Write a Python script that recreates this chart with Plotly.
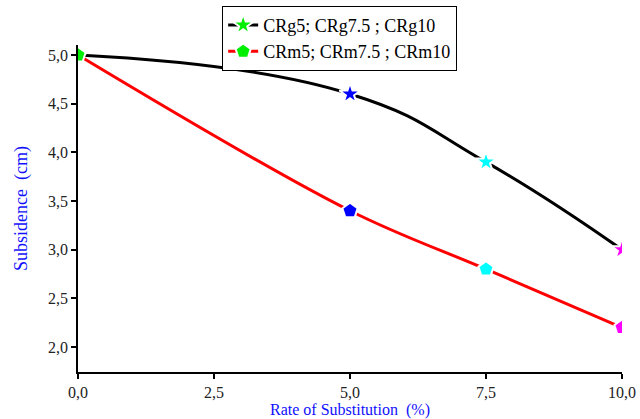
import plotly.graph_objects as go

x_rate = [0, 5, 7.5, 10]
crg = [5.0, 4.6, 3.9, 3.0]
crm = [5.0, 3.4, 2.8, 2.2]
point_colors = ["#00ee00", "#0000ff", "#00ffff", "#ff00ff"]
names = ["CRg5; CRg7.5 ; CRg10", "CRm5; CRm7.5 ; CRm10"]

FONT = "Liberation Serif, Times New Roman, serif"

fig = go.Figure()
fig.add_trace(go.Scatter(
    x=x_rate, y=crg, name=names[0], mode="lines+markers",
    line=dict(color="black", width=3, shape="spline", smoothing=1.3),
    marker=dict(symbol="star", size=16, color=point_colors, line=dict(color="white", width=2)),
))
fig.add_trace(go.Scatter(
    x=x_rate, y=crm, name=names[1], mode="lines+markers",
    line=dict(color="#ff0000", width=3, shape="spline", smoothing=1),
    marker=dict(symbol="pentagon", size=16, color=point_colors, line=dict(color="white", width=2)),
))

axis_common = dict(
    showline=True, linecolor="black", linewidth=1.5, mirror=False,
    ticks="outside", ticklen=5, tickwidth=1.5, tickcolor="black",
    showgrid=False, zeroline=False, automargin=False,
    tickfont=dict(family=FONT, size=16, color="#222222"),
    tickformat=".1f",
)

fig.update_layout(
    width=640, height=419,
    margin=dict(l=78, r=18, t=45, b=47, autoexpand=False),
    paper_bgcolor="white", plot_bgcolor="white",
    separators=", ",
    font=dict(family=FONT),
    showlegend=True,
    legend=dict(
        x=0.265, y=1.12, xanchor="left", yanchor="top",
        bordercolor="black", borderwidth=1, bgcolor="white",
        font=dict(family=FONT, size=18, color="black"),
        tracegroupgap=0, itemwidth=30,
    ),
    xaxis=dict(
        range=[0, 10], tickvals=[0, 2.5, 5, 7.5, 10],
        title=dict(text="Rate of Substitution  (%)", font=dict(family=FONT, size=16, color="#1010ff"), standoff=4),
        **axis_common,
    ),
    yaxis=dict(
        range=[1.743, 5.103], tickvals=[2.0, 2.5, 3.0, 3.5, 4.0, 4.5, 5.0],
        title=dict(text="Subsidence  (cm)", font=dict(family=FONT, size=18, color="#1010ff"), standoff=16),
        **axis_common,
    ),
)

fig.write_html("out.html")
